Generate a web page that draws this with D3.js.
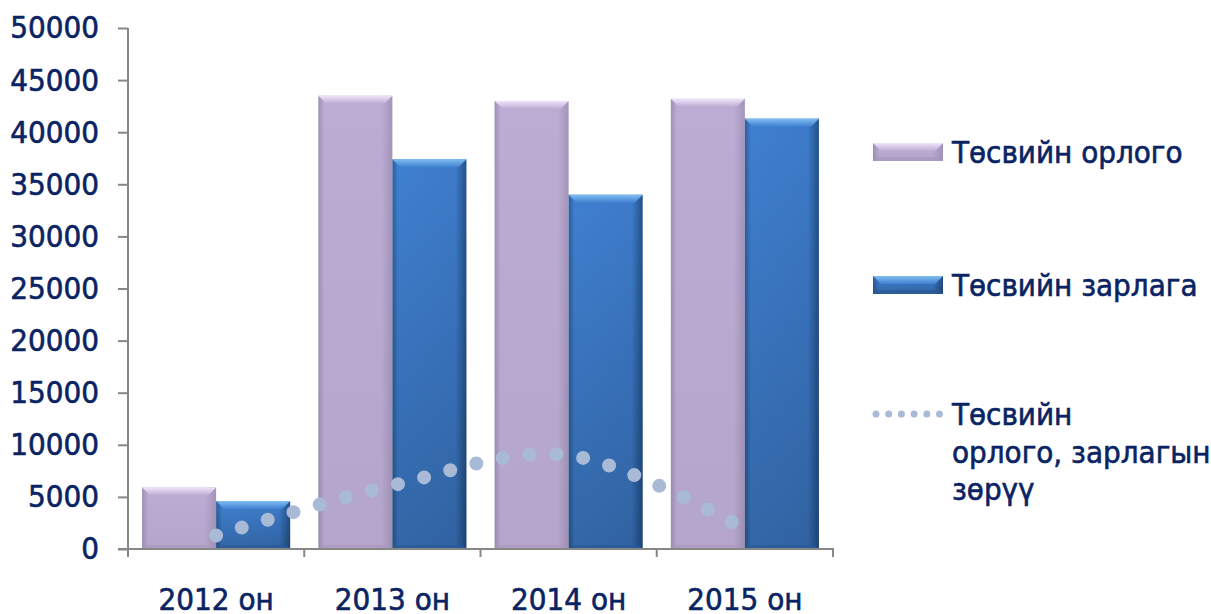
<!DOCTYPE html>
<html>
<head>
<meta charset="utf-8">
<script src="https://cdn.jsdelivr.net/npm/d3@7"></script>
<style>
  body { margin: 0; background: #fff; }
  text { font-family: "DejaVu Sans Condensed", "DejaVu Sans", sans-serif; fill: #0a2463; stroke: #0a2463; stroke-width: 0.6px; }
</style>
</head>
<body>
<svg id="chart" width="1211" height="614"></svg>
<script>
// chart data
const categories = ['2012 он', '2013 он', '2014 он', '2015 он'];
const income = [5900, 43500, 43000, 43200];   // Төсвийн орлого
const expense = [4600, 37400, 34000, 41300];  // Төсвийн зарлага
const balance = [1300, 6100, 9000, 1900];     // зөрүү
const yTicks = [0, 5000, 10000, 15000, 20000, 25000, 30000, 35000, 40000, 45000, 50000];
const seriesNames = ['Төсвийн орлого', 'Төсвийн зарлага'];
const lineName = ['Төсвийн', 'орлого, зарлагын', 'зөрүү'];

const svg = d3.select('#chart');
const AXIS = '#878787';
const TEXT = '#0a2463';

const x = d3.scaleBand().domain(categories).range([128, 833]);
const x1 = d3.scaleBand().domain(seriesNames).range([0, x.bandwidth()]).paddingOuter(0.19);
const y = d3.scaleLinear().domain([0, 50000]).range([549, 28]);

// gradients for the bevelled bars
const defs = svg.append('defs');
const styles = {
  'Төсвийн орлого': { id: 'inc', side: ['#9f8fb6', '#bcacd3', '#bcacd3', '#a494bb'], bottom: '#a898be', top: '#efe4fb', mid: '#bcacd3' },
  'Төсвийн зарлага': { id: 'exp', side: ['#2c5d9c', '#3f80d0', '#3d7bca', '#24518c'], bottom: '#2a5a96', top: '#80bdf2', mid: '#3f80d0' }
};
Object.values(styles).forEach(s => {
  const g = defs.append('linearGradient').attr('id', s.id + '-h').attr('x1', 0).attr('x2', 1).attr('y1', 0).attr('y2', 0);
  [0, 0.08, 0.85, 1].forEach((o, i) => g.append('stop').attr('offset', o).attr('stop-color', s.side[i]));
  const v = defs.append('linearGradient').attr('id', s.id + '-v').attr('x1', 0).attr('x2', 0).attr('y1', 0).attr('y2', 1);
  v.append('stop').attr('offset', 0).attr('stop-color', '#000').attr('stop-opacity', 0);
  v.append('stop').attr('offset', 1).attr('stop-color', '#000').attr('stop-opacity', s.id === 'exp' ? 0.2 : 0.04);
  const t = defs.append('linearGradient').attr('id', s.id + '-t').attr('x1', 0).attr('x2', 0).attr('y1', 0).attr('y2', 1);
  t.append('stop').attr('offset', 0).attr('stop-color', s.top);
  t.append('stop').attr('offset', 1).attr('stop-color', s.mid);
});

function bevelBar(g, bx, by, bw, bh, s) {
  const b = Math.min(8, bh / 2);
  g.append('rect').attr('x', bx).attr('y', by).attr('width', bw).attr('height', bh)
    .attr('fill', `url(#${s.id}-h)`);
  g.append('rect').attr('x', bx).attr('y', by).attr('width', bw).attr('height', bh)
    .attr('fill', `url(#${s.id}-v)`);
  // top bevel
  g.append('path')
    .attr('d', `M${bx},${by} L${bx + bw},${by} L${bx + bw - b},${by + b} L${bx + b},${by + b} Z`)
    .attr('fill', `url(#${s.id}-t)`);
  // bottom shade
  g.append('path')
    .attr('d', `M${bx},${by + bh} L${bx + bw},${by + bh} L${bx + bw - 4},${by + bh - 4} L${bx + 4},${by + bh - 4} Z`)
    .attr('fill', s.bottom).attr('opacity', 0.7);
}

// bars
const rows = categories.map((c, i) => ({ cat: c, values: [income[i], expense[i]] }));
const groups = svg.append('g').selectAll('g').data(rows).join('g')
  .attr('transform', d => `translate(${x(d.cat)},0)`);
groups.each(function (d) {
  const g = d3.select(this);
  seriesNames.forEach((name, k) => {
    const v = d.values[k];
    bevelBar(g, x1(name), y(v), x1.bandwidth(), y(0) - y(v), styles[name]);
  });
});

// dotted smoothed balance line
const line = d3.line()
  .x((d, i) => x(categories[i]) + x.bandwidth() / 2)
  .y(d => y(d))
  .curve(d3.curveCardinal.tension(0));
svg.append('path')
  .datum(balance)
  .attr('d', line)
  .attr('fill', 'none')
  .attr('stroke', '#a9bad6')
  .attr('stroke-width', 14)
  .attr('stroke-linecap', 'round')
  .attr('stroke-dasharray', '0 27');

// axes
const yAxis = svg.append('g').attr('transform', 'translate(128,0)')
  .call(d3.axisLeft(y).tickValues(yTicks).tickSize(10).tickPadding(19).tickFormat(d3.format('d')));
const xAxis = svg.append('g').attr('transform', `translate(0,${y(0)})`)
  .call(d3.axisBottom(x).tickSize(0).tickPadding(50));
[yAxis, xAxis].forEach(a => {
  a.select('.domain').attr('stroke', AXIS).attr('stroke-width', 2);
  a.selectAll('.tick line').attr('stroke', AXIS).attr('stroke-width', 2);
  a.selectAll('text').attr('font-size', 31).attr('fill', TEXT);
});
yAxis.select('.domain').attr('d', `M-0,${y(50000)}H0V${y(0)}H-10`);
xAxis.select('.domain').attr('d', `M${x.range()[0]},8V0H${x.range()[1]}V8`);
xAxis.selectAll('.tick text').attr('dy', '0').attr('y', 61);
// category separators
svg.append('g').selectAll('line').data(categories.slice(1)).join('line')
  .attr('x1', d => x(d)).attr('x2', d => x(d))
  .attr('y1', y(0)).attr('y2', y(0) + 8)
  .attr('stroke', AXIS).attr('stroke-width', 2);

// legend
const legend = svg.append('g');
const legendY = [152, 285];
seriesNames.forEach((name, i) => {
  const g = legend.append('g');
  bevelBar(g, 873, legendY[i] - 9, 70, 18, styles[name]);
  g.append('text').attr('x', 952).attr('y', legendY[i] + 11).attr('font-size', 31).text(name);
});
legend.append('line')
  .attr('x1', 876).attr('x2', 940).attr('y1', 414).attr('y2', 414)
  .attr('stroke', '#a9bad6').attr('stroke-width', 7)
  .attr('stroke-linecap', 'round').attr('stroke-dasharray', '0 12.7');
const lt = legend.append('text').attr('x', 952).attr('y', 425).attr('font-size', 31);
lineName.forEach((t, i) => lt.append('tspan').attr('x', 952).attr('dy', i ? 37.5 : 0).text(t));
</script>
</body>
</html>
